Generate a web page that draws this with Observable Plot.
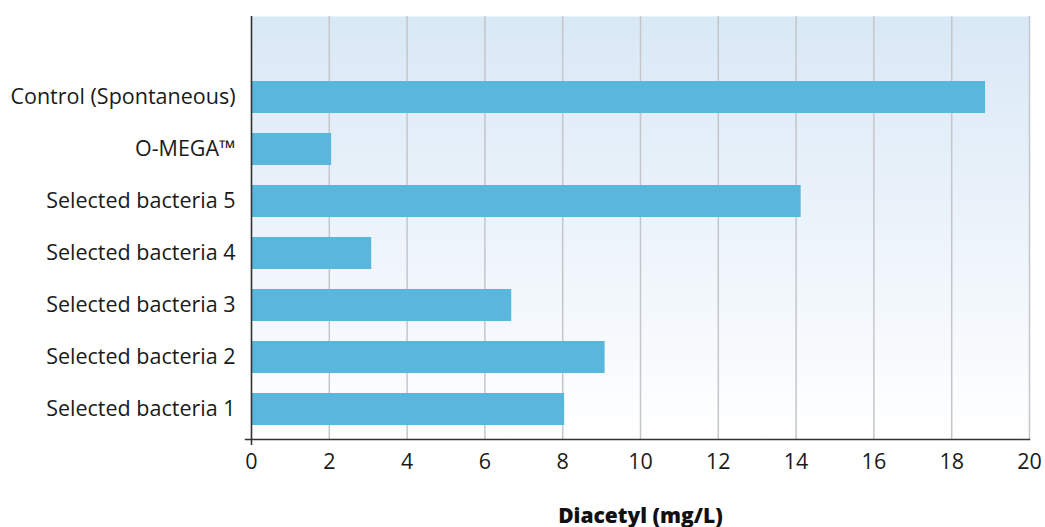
<!DOCTYPE html>
<html>
<head>
<meta charset="utf-8">
<script src="https://cdn.jsdelivr.net/npm/d3@7"></script>
<script src="https://cdn.jsdelivr.net/npm/@observablehq/plot@0.6"></script>
<style>
  html, body { margin: 0; padding: 0; background: #fff; }
  #chart svg { display: block; }
</style>
</head>
<body>
<div id="chart"></div>
<script>
const categories = [
  "Control (Spontaneous)",
  "O-MEGA™",
  "Selected bacteria 5",
  "Selected bacteria 4",
  "Selected bacteria 3",
  "Selected bacteria 2",
  "Selected bacteria 1"
];
const values = [18.87, 2.06, 14.13, 3.09, 6.69, 9.09, 8.05];
const xTicks = [0, 2, 4, 6, 8, 10, 12, 14, 16, 18, 20];
const gridTicks = [2, 4, 6, 8, 10, 12, 14, 16, 18, 20];
const xLabel = "Diacetyl (mg/L)";

const data = categories.map((c, i) => ({ category: c, value: values[i] }));

const defs = () => {
  const ns = "http://www.w3.org/2000/svg";
  const d = document.createElementNS(ns, "defs");
  const g = document.createElementNS(ns, "linearGradient");
  g.setAttribute("id", "bgGrad");
  g.setAttribute("x1", "0"); g.setAttribute("y1", "0");
  g.setAttribute("x2", "0"); g.setAttribute("y2", "1");
  [["0%", "#d9e8f6"], ["100%", "#ffffff"]].forEach(([o, c]) => {
    const s = document.createElementNS(ns, "stop");
    s.setAttribute("offset", o);
    s.setAttribute("stop-color", c);
    g.appendChild(s);
  });
  d.appendChild(g);
  return d;
};

const chart = Plot.plot({
  width: 1045,
  height: 527,
  marginLeft: 251,
  marginRight: 16,
  marginTop: 16,
  marginBottom: 88,
  style: { fontFamily: "'Open Sans', 'Noto Sans', sans-serif", fontSize: "21.5px", color: "#1a1a1a", background: "#fff" },
  x: { domain: [0, 20], ticks: xTicks },
  y: { domain: ["", ...categories], range: [16, 437], padding: 0 },
  marks: [
    defs,
    Plot.frame({ fill: "url(#bgGrad)", stroke: null }),
    Plot.ruleX(gridTicks, { stroke: "#c4c6ca", strokeWidth: 1.5 }),
    Plot.barX(data, { y: "category", x: "value", fill: "#59b7dd", insetTop: 10, insetBottom: 10 }),
    Plot.ruleX([0], { stroke: "#333", strokeWidth: 1.6, insetBottom: -6 }),
    Plot.frame({ anchor: "bottom", stroke: "#333", strokeWidth: 1.4, insetLeft: -6 }),
    Plot.axisY({ domain: categories, tickSize: 0, tickPadding: 16, label: null, fontSize: "21.5px" }),
    Plot.axisX({ ticks: xTicks, tickSize: 0, tickPadding: 14, label: null, fontSize: "21.5px" }),
    Plot.text([xLabel], { frameAnchor: "bottom", dy: 83, fontWeight: 800, fontSize: 21, fill: "#111" })
  ]
});
document.getElementById("chart").appendChild(chart);
</script>
</body>
</html>
